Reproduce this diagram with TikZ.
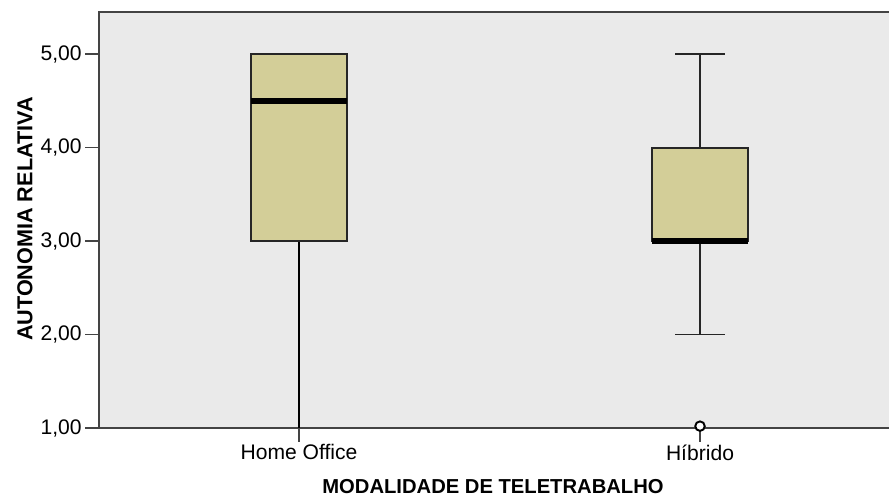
\documentclass[tikz,border=0pt]{standalone}
\usepackage{fontspec}
\setmainfont{Liberation Sans}
\usepackage{xcolor}
\definecolor{boxfill}{HTML}{D3CE98}
\definecolor{plotbg}{HTML}{EAEAEA}
\definecolor{framegray}{HTML}{444444}

\begin{document}
\begin{tikzpicture}[x=0.02cm, y=0.02cm]
    \useasboundingbox (0, 0) rectangle (889, 496);
    \begin{scope}[yshift=-0.51cm, y=1.87cm]
        \fill[plotbg] (99, 1) rectangle (889, 5.449);
        \draw[framegray, line width=1.4pt] (889, 5.449) -- (99, 5.449) -- (99, 1) -- (889, 1);
        \foreach \v in {1, ..., 5}
            \draw[framegray, line width=0.9pt] (85, \v) -- (99, \v) node[pos=0, left, inner sep=1.5pt, black] {\fontsize{12}{14}\selectfont \v,00};
        \draw[framegray, line width=0.9pt] (299, 1) -- (299, 0.85) node[below, inner sep=1pt, black] {\fontsize{12}{14}\selectfont Home Office};
        \draw[framegray, line width=0.9pt] (700, 1) -- (700, 0.85) node[below, inner sep=1pt, black] {\fontsize{12}{14}\selectfont Híbrido};
        % home office
        \draw[black, line width=0.9pt] (299, 3) to (299, 1);
        \filldraw[fill=boxfill, draw=black!85, line width=1.1pt] (251, 3) rectangle (347, 5);
        \draw[black, line width=3.2pt] (251, 4.5) to (347, 4.5);
        % hibrido
        \draw[black!85, line width=0.9pt] (700, 4) to (700, 5);
        \draw[black!85, line width=0.9pt] (675, 5) to (725, 5);
        \draw[black!85, line width=0.9pt] (700, 3) to (700, 2);
        \draw[black!85, line width=0.9pt] (675, 2) to (725, 2);
        \filldraw[fill=boxfill, draw=black!85, line width=1.1pt] (652, 3) rectangle (748, 4);
        \draw[black, line width=3.2pt] (652, 3) to (748, 3);
        \filldraw[fill=white, draw=black, line width=1.1pt] (700, 1.02) circle (0.095cm);
    \end{scope}
    \node[font=\bfseries\fontsize{11.5}{13}\selectfont] at (493, 9) {MODALIDADE DE TELETRABALHO};
    \node[font=\bfseries\fontsize{12.3}{14}\selectfont, rotate=90] at (25, 277) {AUTONOMIA RELATIVA};
\end{tikzpicture}
\end{document}
